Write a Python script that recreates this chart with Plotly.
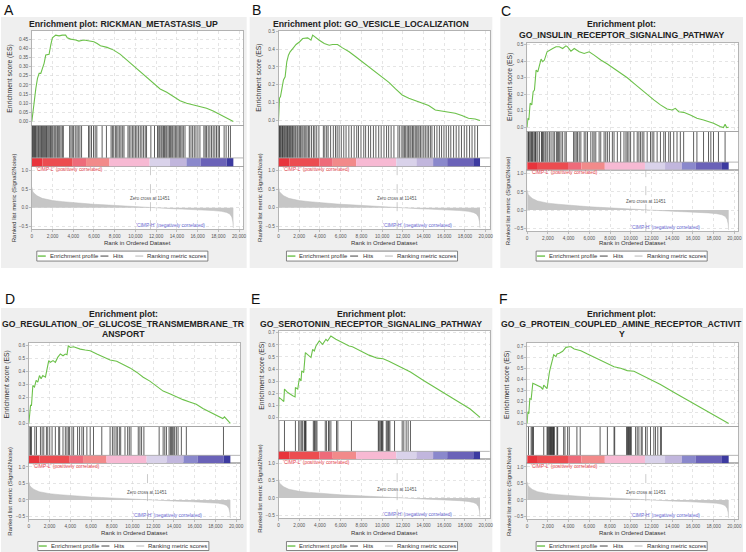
import plotly.graph_objects as go

FONT = "Liberation Sans, Arial, Helvetica, sans-serif"
W, H = 746, 552
N_GENES = 19450
X_MAX = 20400
ZERO_CROSS = 11451

# ---------------- shared data (same ranked list in every panel) ----------------
rank_x = [0, 30, 100, 250, 500, 1000, 1500, 2000, 3000, 4000, 5000, 6000, 7000, 8000,
          9000, 10000, 11451, 12500, 13500, 14500, 15500, 16500, 17500, 18300, 18800,
          19100, 19300, 19400, 19450]
rank_y = [0.55, 0.48, 0.43, 0.38, 0.32, 0.25, 0.21, 0.19, 0.16, 0.13, 0.11, 0.09, 0.075,
          0.057, 0.04, 0.024, 0.0, -0.015, -0.028, -0.04, -0.05, -0.06, -0.078, -0.1,
          -0.13, -0.17, -0.25, -0.38, -0.55]
cb_edges = [0, 1034, 3941, 5233, 7494, 11370, 13308, 14923, 16280, 18800, 19450]
cb_colors = ["#e8343c", "#ec4c50", "#ee6b7a", "#f28a8a", "#f7b9d3", "#d9d2ea",
             "#c1b6dd", "#8a88cc", "#6a62b8", "#3c3aa0"]

panel_letters = ["A", "B", "C", "D", "E", "F"]
panel_titles = [
    ["Enrichment plot: RICKMAN_METASTASIS_UP"],
    ["Enrichment plot: GO_VESICLE_LOCALIZATION"],
    ["Enrichment plot:", "GO_INSULIN_RECEPTOR_SIGNALING_PATHWAY"],
    ["Enrichment plot:", "GO_REGULATION_OF_GLUCOSE_TRANSMEMBRANE_TR", "ANSPORT"],
    ["Enrichment plot:", "GO_SEROTONIN_RECEPTOR_SIGNALING_PATHWAY"],
    ["Enrichment plot:", "GO_G_PROTEIN_COUPLED_AMINE_RECEPTOR_ACTIVIT", "Y"],
]

# ---------------- running enrichment scores ----------------
es_a_x = [0, 128, 224, 384, 544, 704, 864, 1024, 1184, 1344, 1664, 1824, 1984, 2304, 2624,
          2944, 3264, 3424, 3744, 4224, 4544, 5024, 5504, 5984, 6304, 6624, 7264, 7904,
          8544, 9184, 9824, 10464, 11104, 11744, 12384, 13024, 13664, 14304, 14944,
          15584, 16224, 16864, 17504, 18144, 18784, 19450]
es_a_y = [0, 0.073, 0.109, 0.18, 0.236, 0.263, 0.263, 0.29, 0.318, 0.363, 0.367, 0.417,
          0.457, 0.472, 0.468, 0.472, 0.472, 0.457, 0.45, 0.445, 0.439, 0.445, 0.439,
          0.436, 0.426, 0.414, 0.405, 0.39, 0.367, 0.336, 0.305, 0.272, 0.24, 0.209,
          0.178, 0.16, 0.136, 0.113, 0.1, 0.091, 0.082, 0.073, 0.058, 0.04, 0.022, 0.0]

es_b_x = [0, 96, 192, 320, 480, 640, 800, 960, 1120, 1376, 1696, 2016, 2336, 2816, 3136,
          3296, 3616, 3936, 4416, 4896, 5216, 5696, 6176, 6816, 7456, 8096, 8736, 9376,
          10016, 10656, 11296, 11936, 12576, 13216, 13856, 14496, 15136, 15776, 16416,
          17056, 17696, 18336, 18976, 19450]
es_b_y = [0, 0.125, 0.134, 0.18, 0.227, 0.245, 0.329, 0.366, 0.385, 0.403, 0.426, 0.44,
          0.459, 0.463, 0.45, 0.478, 0.463, 0.45, 0.431, 0.422, 0.426, 0.426, 0.407,
          0.385, 0.357, 0.329, 0.301, 0.273, 0.245, 0.214, 0.177, 0.143, 0.125, 0.112,
          0.097, 0.084, 0.059, 0.054, 0.05, 0.041, 0.028, 0.013, 0.009, 0.0]

es_c_x = [0, 64, 160, 288, 448, 576, 704, 864, 1024, 1184, 1344, 1504, 1664, 1920, 2144,
          2464, 2784, 3104, 3424, 3744, 3904, 4224, 4544, 5024, 5504, 5984, 6464, 7104,
          7744, 8384, 9024, 9664, 10304, 10944, 11584, 12224, 12864, 13504, 13984, 14304,
          14624, 15104, 15744, 16384, 17024, 17344, 17984, 18624, 18944, 19104, 19264,
          19450]
es_c_y = [0, 0.054, 0.044, 0.145, 0.135, 0.215, 0.225, 0.345, 0.335, 0.375, 0.412, 0.396,
          0.406, 0.456, 0.466, 0.476, 0.486, 0.486, 0.476, 0.492, 0.486, 0.46, 0.476,
          0.456, 0.446, 0.456, 0.436, 0.406, 0.382, 0.355, 0.331, 0.299, 0.265, 0.231,
          0.195, 0.165, 0.135, 0.11, 0.104, 0.114, 0.094, 0.09, 0.074, 0.054, 0.044,
          0.038, 0.024, 0.004, -0.002, 0.018, -0.002, 0.0]

es_d_x = [0, 96, 160, 256, 384, 544, 704, 864, 1024, 1184, 1344, 1600, 1760, 1920, 2080,
          2336, 2560, 2784, 3040, 3296, 3520, 3680, 3808, 4000, 4320, 4640, 4960, 5440,
          5920, 6560, 7200, 7840, 8480, 9120, 9760, 10400, 11040, 11680, 12320, 12960,
          13600, 14240, 14880, 15520, 16160, 16800, 17440, 18080, 18720, 18880, 19450]
es_d_y = [0, 0.077, 0.14, 0.14, 0.293, 0.281, 0.332, 0.319, 0.37, 0.345, 0.37, 0.357,
          0.421, 0.485, 0.472, 0.485, 0.472, 0.51, 0.536, 0.523, 0.536, 0.531, 0.6, 0.587,
          0.592, 0.582, 0.574, 0.567, 0.562, 0.536, 0.51, 0.49, 0.48, 0.454, 0.429, 0.396,
          0.357, 0.327, 0.286, 0.25, 0.23, 0.204, 0.184, 0.166, 0.148, 0.115, 0.089,
          0.064, 0.038, 0.051, 0.0]

es_e_x = [0, 32, 256, 512, 576, 896, 1376, 1600, 1632, 1856, 2016, 2176, 2240, 2432, 2592,
          3136, 3296, 3456, 3616, 3936, 4256, 4576, 4736, 5056, 5536, 6176, 6816, 7136,
          7456, 8096, 8736, 9536, 10100, 10656, 11616, 12576, 12736, 14000, 15500, 17000,
          18500, 19450]
es_e_y = [0, 0.165, 0.151, 0.132, 0.234, 0.206, 0.179, 0.17, 0.247, 0.234, 0.324, 0.302,
          0.385, 0.371, 0.536, 0.495, 0.563, 0.549, 0.59, 0.632, 0.604, 0.646, 0.632,
          0.673, 0.646, 0.615, 0.59, 0.585, 0.57, 0.54, 0.515, 0.49, 0.485, 0.465, 0.425,
          0.38, 0.375, 0.305, 0.228, 0.15, 0.07, 0.0]

es_f_x = [0, 64, 160, 256, 384, 480, 544, 704, 1024, 1344, 1504, 1600, 1920, 2048, 2144,
          2240, 2368, 2464, 2560, 2784, 2880, 3104, 3424, 3584, 3744, 4064, 4224, 4544,
          4864, 5184, 5824, 6464, 7104, 7744, 8384, 9024, 9664, 10304, 10944, 11584,
          12224, 12864, 14144, 15424, 16704, 17984, 19450]
es_f_y = [0, 0.106, 0.09, 0.227, 0.22, 0.286, 0.367, 0.361, 0.345, 0.33, 0.31, 0.35,
          0.318, 0.42, 0.465, 0.506, 0.542, 0.588, 0.627, 0.609, 0.633, 0.64, 0.658,
          0.679, 0.694, 0.7, 0.7, 0.679, 0.67, 0.664, 0.633, 0.603, 0.579, 0.548, 0.518,
          0.503, 0.482, 0.476, 0.445, 0.415, 0.385, 0.355, 0.285, 0.215, 0.148, 0.079, 0.0]

# ---------------- hit positions (rank of each gene-set member) ----------------
hits_a = [64, 128, 192, 256, 352, 416, 512, 608, 672, 768, 864, 928, 1024, 1120, 1216,
          1312, 1408, 1472, 1568, 1664, 1760, 1824, 1920, 2016, 2144, 2240, 2336, 2464,
          2560, 2688, 2816, 2944, 3040, 3648, 3776, 3904, 4032, 4192, 4352, 4480, 4640,
          4800, 5472, 5600, 5760, 5952, 6112, 6272, 6784, 7200, 7648, 7776, 7904, 8064,
          8192, 8320, 8480, 8608, 8768, 8896, 9280, 9408, 9568, 9728, 9856, 10016, 10144,
          10304, 10464, 10624, 10784, 10944, 11072, 11488, 11840, 12128, 12256, 12352,
          12480, 12576, 12704, 12800, 12928, 13024, 13152, 13280, 13376, 13504, 13600,
          13728, 13856, 13984, 14112, 14240, 14368, 14496, 14624, 14784, 15200, 15360,
          15520, 15680, 15840, 16032, 16224, 16608, 16736, 16864, 17024, 17184, 17344,
          17504, 17664, 17824, 17984, 18112, 18560, 18752, 18976, 19168]
hits_b = [32, 96, 170, 230, 320, 390, 450, 540, 610, 700, 790, 870, 950, 1060, 1150, 1240,
          1350, 1430, 1570, 1660, 1790, 1880, 2010, 2120, 2250, 2360, 2490, 2630, 2750,
          2890, 3010, 3190, 3370, 3510, 3690, 3900, 4330, 4470, 4650, 4790, 5030, 5290,
          5500, 5660, 5850, 6060, 6300, 6520, 6790, 7030, 7300, 7550, 7720, 7960, 8230,
          8410, 8680, 8890, 9160, 9400, 9670, 9910, 10180, 10430, 10630, 10870, 11140,
          11530, 11700, 11910, 12030, 12170, 12280, 12420, 12540, 12680, 12790, 12930,
          13050, 13190, 13300, 13450, 13560, 13700, 13850, 14020, 14170, 14340, 14490,
          14660, 14810, 15050, 15290, 15530, 15740, 15970, 16190, 16420, 16630, 16900,
          17150, 17410, 17660, 17930, 18170, 18440, 18680, 18950, 19210]
hits_c = [64, 128, 192, 288, 384, 448, 512, 640, 736, 800, 864, 1024, 1184, 1376, 1440,
          1504, 1600, 1728, 1824, 1984, 2144, 2304, 2496, 2624, 2816, 2912, 3008, 3104,
          3264, 3424, 3648, 3776, 4480, 4608, 4736, 4864, 5024, 5184, 5504, 5664, 5824,
          6144, 6336, 6464, 6624, 6944, 7104, 7424, 7584, 7744, 7936, 8224, 8384, 8704,
          9024, 9344, 9536, 9664, 9824, 9984, 10304, 10624, 10784, 10944, 11104, 11264,
          11584, 11904, 12064, 12224, 12544, 12864, 13184, 13344, 13664, 13824, 14144,
          14464, 14784, 15104, 16064, 16384, 17024, 17504, 17728, 17984, 18464, 19104]
hits_d = [96, 160, 256, 576, 736, 1120, 1280, 1440, 1696, 1824, 2016, 2240, 2560, 2880,
          2976, 3296, 3520, 3680, 3840, 3936, 4160, 4320, 4704, 4896, 5120, 5280, 5600,
          5920, 6240, 7040, 7840, 8064, 8224, 8416, 8544, 8736, 8864, 9280, 9536, 9696,
          9856, 10560, 10720, 10880, 11104, 12576, 12960, 13120, 13280, 13536, 13664,
          13760, 13856, 13984, 14080, 14240, 14400, 14720, 15200, 18784]
hits_e = [32, 576, 1632, 1952, 2080, 2240, 2336, 2496, 2560, 2592, 2656, 3360, 3456, 3520,
          3616, 3712, 4512, 4640, 4832, 4896, 5056, 5600, 5728, 7040, 9632, 9696, 9792,
          9888, 9952, 10016, 10080, 10400, 10496, 10592, 10656, 10752, 11200, 11936,
          12096, 12320, 12512, 12736]
hits_f = [128, 384, 480, 544, 608, 1600, 1920, 1984, 2048, 2144, 2208, 2240, 2304, 2368,
          2400, 2464, 2528, 2560, 2624, 2880, 2944, 3520, 3648, 3904, 4064, 4800, 5120,
          7040, 7744, 8384, 8448, 9600, 9664, 9728, 9792, 9856, 9920, 9984, 10048, 10464,
          10624, 10784, 11008, 11104, 11424, 11584, 11904, 12224, 12384, 12608, 12864,
          12960]

panel_es = [(es_a_x, es_a_y), (es_b_x, es_b_y), (es_c_x, es_c_y),
            (es_d_x, es_d_y), (es_e_x, es_e_y), (es_f_x, es_f_y)]
panel_hits = [hits_a, hits_b, hits_c, hits_d, hits_e, hits_f]
es_ticks = [[0, 0.05, 0.1, 0.15, 0.2, 0.25, 0.3, 0.35, 0.4, 0.45],
            [0, 0.1, 0.2, 0.3, 0.4, 0.5],
            [0, 0.1, 0.2, 0.3, 0.4, 0.5],
            [0, 0.1, 0.2, 0.3, 0.4, 0.5, 0.6],
            [0, 0.1, 0.2, 0.3, 0.4, 0.5, 0.6, 0.7],
            [0, 0.1, 0.2, 0.3, 0.4, 0.5, 0.6, 0.7]]
es_tickfmt = [".2f", ".1f", ".1f", ".1f", ".1f", ".1f"]
rank_ticks = [-0.5, 0.0, 0.5, 1.0]
x_ticks = [0, 2000, 4000, 6000, 8000, 10000, 12000, 14000, 16000, 18000, 20000]
legend_labels = ["Enrichment profile", "Hits", "Ranking metric scores"]

# ---------------- layout geometry (pixels) ----------------
geo = [
    dict(bg=(0, 15, 247, 267), letter=(8, 8), title_y=[22], x0=31, es=(29, 124),
         hits=(124, 156.5), cb=(156.5, 165), rk=(165, 228), es_range=(-0.022, 0.495),
         es_dx=21.5, leg_x=36, leg_y=255, leg_h=10, xlab_y=242),
    dict(bg=(250, 15, 494, 267), letter=(257, 8), title_y=[22], x0=279, es=(29, 124),
         hits=(124, 156.5), cb=(156.5, 165), rk=(165, 228), es_range=(-0.028, 0.502),
         es_dx=19, leg_x=287, leg_y=255, leg_h=10, xlab_y=242),
    dict(bg=(502, 15, 746, 267), letter=(508, 9), title_y=[22, 33], x0=529, es=(41, 130),
         hits=(130, 160.7), cb=(160.7, 168.3), rk=(168.3, 230), es_range=(-0.026, 0.51),
         es_dx=17.5, leg_x=538, leg_y=255, leg_h=10, xlab_y=242),
    dict(bg=(0, 307, 247, 552), letter=(9, 298), title_y=[313, 323, 333], x0=28,
         es=(342, 426), hits=(426, 455), cb=(455, 463), rk=(463, 519),
         es_range=(-0.023, 0.623), es_dx=22, leg_x=37, leg_y=546, leg_h=9, xlab_y=533),
    dict(bg=(250, 307, 494, 552), letter=(256, 298), title_y=[313, 323], x0=279,
         es=(330, 420), hits=(420, 451), cb=(451, 459), rk=(459, 518),
         es_range=(-0.025, 0.716), es_dx=16.5, leg_x=287, leg_y=546, leg_h=9, xlab_y=533),
    dict(bg=(502, 307, 746, 552), letter=(505, 298), title_y=[313, 323, 333], x0=529,
         es=(342, 426), hits=(426, 455), cb=(455, 463), rk=(463, 519),
         es_range=(-0.027, 0.736), es_dx=21, leg_x=538, leg_y=546, leg_h=9, xlab_y=533),
]
PLOT_W = 212.5
RANK_RANGE = [-0.58, 1.11]

GREEN = "#6cc14a"
BORDER = "#a3a3a3"
GRID = "#d4d4d4"
PANEL_BG = "#efefef"
TICK_FONT = dict(family=FONT, size=4.7, color="#555555")


def px(x):
    return x / W


def py(y):
    return 1 - y / H


def ax(k):
    return "" if k == 1 else str(k)


fig = go.Figure()
shapes = []
annotations = []
layout_axes = {}

# panel backgrounds first
for g in geo:
    x0b, y0b, x1b, y1b = g["bg"]
    shapes.append(dict(type="rect", xref="paper", yref="paper", x0=px(x0b), x1=px(x1b),
                       y0=py(y1b), y1=py(y0b), fillcolor=PANEL_BG, line=dict(width=0),
                       layer="below"))

for p, g in enumerate(geo):
    k1, k2, k3 = 3 * p + 1, 3 * p + 2, 3 * p + 3
    x0 = g["x0"]
    x1 = x0 + PLOT_W
    dom = [px(x0), px(x1)]
    cx = (x0 + x1) / 2

    # white plot areas
    for (t, b) in (g["es"], (g["hits"][0], g["cb"][1]), g["rk"]):
        shapes.append(dict(type="rect", xref="paper", yref="paper", x0=px(x0), x1=px(x1),
                           y0=py(b), y1=py(t), fillcolor="white", line=dict(width=0),
                           layer="below"))

    base_x = dict(domain=dom, range=[0, X_MAX], showline=True, mirror=True,
                  linecolor=BORDER, linewidth=0.8, zeroline=False)
    # ES axes
    layout_axes["xaxis" + ax(k1)] = dict(base_x, anchor="y" + ax(k1), showgrid=True,
                                         gridcolor=GRID, griddash="dot", gridwidth=0.6,
                                         tickvals=x_ticks, showticklabels=False, ticks="")
    layout_axes["yaxis" + ax(k1)] = dict(domain=[py(g["es"][1]), py(g["es"][0])],
                                         range=list(g["es_range"]), anchor="x" + ax(k1),
                                         tickvals=es_ticks[p], tickformat=es_tickfmt[p],
                                         tickfont=TICK_FONT, ticks="outside", ticklen=2,
                                         tickcolor="#999", tickwidth=0.6,
                                         showgrid=True, gridcolor=GRID, griddash="dot",
                                         gridwidth=0.6, showline=True, mirror=True,
                                         linecolor=BORDER, linewidth=0.8, zeroline=False)
    # hits axes
    hb, ht = g["cb"][1], g["hits"][0]
    cbfrac = (g["cb"][1] - g["cb"][0]) / (hb - ht)
    layout_axes["xaxis" + ax(k2)] = dict(base_x, anchor="y" + ax(k2), showgrid=False,
                                         showticklabels=False, ticks="")
    layout_axes["yaxis" + ax(k2)] = dict(domain=[py(hb), py(ht)], range=[0, 1],
                                         anchor="x" + ax(k2), showgrid=False,
                                         showticklabels=False, ticks="", showline=True,
                                         mirror=True, linecolor=BORDER, linewidth=0.8,
                                         zeroline=False)
    # ranked metric axes
    layout_axes["xaxis" + ax(k3)] = dict(base_x, anchor="y" + ax(k3), showgrid=True,
                                         gridcolor=GRID, griddash="dot", gridwidth=0.6,
                                         tickvals=x_ticks, tickformat=",d",
                                         tickfont=TICK_FONT, ticks="outside", ticklen=2,
                                         tickcolor="#999", tickwidth=0.6)
    layout_axes["yaxis" + ax(k3)] = dict(domain=[py(g["rk"][1]), py(g["rk"][0])],
                                         range=RANK_RANGE, anchor="x" + ax(k3),
                                         tickvals=rank_ticks, tickformat=".1f",
                                         tickfont=TICK_FONT, ticks="outside", ticklen=2,
                                         tickcolor="#999", tickwidth=0.6,
                                         showgrid=True, gridcolor=GRID, griddash="dot",
                                         gridwidth=0.6, showline=True, mirror=True,
                                         linecolor=BORDER, linewidth=0.8, zeroline=False)

    # traces
    fig.add_trace(go.Scatter(x=rank_x, y=rank_y, mode="lines", fill="tozeroy",
                             fillcolor="#c6c6c6", line=dict(color="#bdbdbd", width=0.5),
                             xaxis="x" + ax(k3), yaxis="y" + ax(k3), showlegend=False,
                             hoverinfo="skip"))
    hx, hy = [], []
    for h in panel_hits[p]:
        hx += [h, h, None]
        hy += [cbfrac, 1, None]
    fig.add_trace(go.Scatter(x=hx, y=hy, mode="lines", line=dict(color="#1a1a1a", width=0.7),
                             xaxis="x" + ax(k2), yaxis="y" + ax(k2), showlegend=False,
                             hoverinfo="skip"))
    ex, ey = panel_es[p]
    fig.add_trace(go.Scatter(x=ex, y=ey, mode="lines", line=dict(color=GREEN, width=1.1),
                             xaxis="x" + ax(k1), yaxis="y" + ax(k1), showlegend=False))

    # colour bar
    for i, c in enumerate(cb_colors):
        shapes.append(dict(type="rect", xref="x" + ax(k2), yref="y" + ax(k2),
                           x0=cb_edges[i], x1=cb_edges[i + 1], y0=0, y1=cbfrac,
                           fillcolor=c, line=dict(width=0), layer="above"))
    shapes.append(dict(type="line", xref="x" + ax(k2), yref="y" + ax(k2), x0=0, x1=X_MAX,
                       y0=cbfrac, y1=cbfrac, line=dict(color=BORDER, width=0.8)))
    # zero-cross dashed line
    shapes.append(dict(type="line", xref="x" + ax(k3), yref="y" + ax(k3), x0=ZERO_CROSS,
                       x1=ZERO_CROSS, y0=RANK_RANGE[0], y1=RANK_RANGE[1],
                       line=dict(color="#a8a8a8", width=0.6, dash="dash")))

    # texts inside ranked plot
    annotations.append(dict(xref="x" + ax(k3), yref="y" + ax(k3), x=200, y=1.02,
                            xanchor="left", yanchor="middle", showarrow=False,
                            text="'CIMP-L' (positively correlated)",
                            font=dict(family=FONT, size=4.9, color="#e8454f")))
    annotations.append(dict(xref="x" + ax(k3), yref="y" + ax(k3), x=ZERO_CROSS, y=0.24,
                            xanchor="center", yanchor="middle", showarrow=False,
                            text="Zero cross at 11451",
                            font=dict(family=FONT, size=4.5, color="#555555")))
    annotations.append(dict(xref="x" + ax(k3), yref="y" + ax(k3), x=13400, y=-0.48,
                            xanchor="center", yanchor="middle", showarrow=False,
                            text="'CIMP-H' (negatively correlated)",
                            font=dict(family=FONT, size=4.9, color="#6a6ad2")))

    # letter, title
    lx, ly = g["letter"]
    annotations.append(dict(xref="paper", yref="paper", x=px(lx), y=py(ly),
                            xanchor="center", yanchor="middle", showarrow=False,
                            text=panel_letters[p],
                            font=dict(family=FONT, size=14, color="#111111")))
    tcx = (g["bg"][0] + g["bg"][2]) / 2
    for line_txt, ty in zip(panel_titles[p], g["title_y"]):
        annotations.append(dict(xref="paper", yref="paper", x=px(tcx), y=py(ty),
                                xanchor="center", yanchor="middle", showarrow=False,
                                text="<b>" + line_txt + "</b>",
                                font=dict(family=FONT, size=8.7, color="#222222")))
    # axis titles
    es_mid = (g["es"][0] + g["es"][1]) / 2
    annotations.append(dict(xref="paper", yref="paper", x=px(x0 - g["es_dx"]), y=py(es_mid),
                            xanchor="center", yanchor="middle", showarrow=False,
                            textangle=-90, text="Enrichment score (ES)",
                            font=dict(family=FONT, size=6.8, color="#333333")))
    rk_mid = (g["rk"][0] + g["rk"][1]) / 2
    annotations.append(dict(xref="paper", yref="paper", x=px(x0 - 18.5), y=py(rk_mid),
                            xanchor="center", yanchor="middle", showarrow=False,
                            textangle=-90, text="Ranked list metric (Signal2Noise)",
                            font=dict(family=FONT, size=6.0, color="#333333")))
    annotations.append(dict(xref="paper", yref="paper", x=px(cx), y=py(g["xlab_y"]),
                            xanchor="center", yanchor="middle", showarrow=False,
                            text="Rank in Ordered Dataset",
                            font=dict(family=FONT, size=6.0, color="#333333")))

    # legend
    bx, byc, bh = g["leg_x"], g["leg_y"], g["leg_h"]
    shapes.append(dict(type="rect", xref="paper", yref="paper", x0=px(bx), x1=px(bx + 172),
                       y0=py(byc + bh / 2), y1=py(byc - bh / 2), fillcolor="white",
                       line=dict(color="#666666", width=0.8)))
    leg_items = [(1, 9, 11, GREEN, 1.4), (64, 72, 75, "#444444", 1.0),
                 (99, 107, 109, "#cccccc", 1.4)]
    for (l0, l1, tx, col, lw), lab in zip(leg_items, legend_labels):
        shapes.append(dict(type="line", xref="paper", yref="paper", x0=px(bx + l0),
                           x1=px(bx + l1), y0=py(byc), y1=py(byc),
                           line=dict(color=col, width=lw)))
        annotations.append(dict(xref="paper", yref="paper", x=px(bx + tx), y=py(byc),
                                xanchor="left", yanchor="middle", showarrow=False,
                                text=lab, font=dict(family=FONT, size=6.0, color="#333333")))

fig.update_layout(width=W, height=H, margin=dict(l=0, r=0, t=0, b=0),
                  paper_bgcolor="white", plot_bgcolor="rgba(0,0,0,0)",
                  showlegend=False, shapes=shapes, annotations=annotations,
                  font=dict(family=FONT), hovermode=False, **layout_axes)
fig.write_html("out.html", config={"displayModeBar": False, "staticPlot": True},
               post_script="document.body.style.margin='0';document.body.style.overflow='hidden';")
